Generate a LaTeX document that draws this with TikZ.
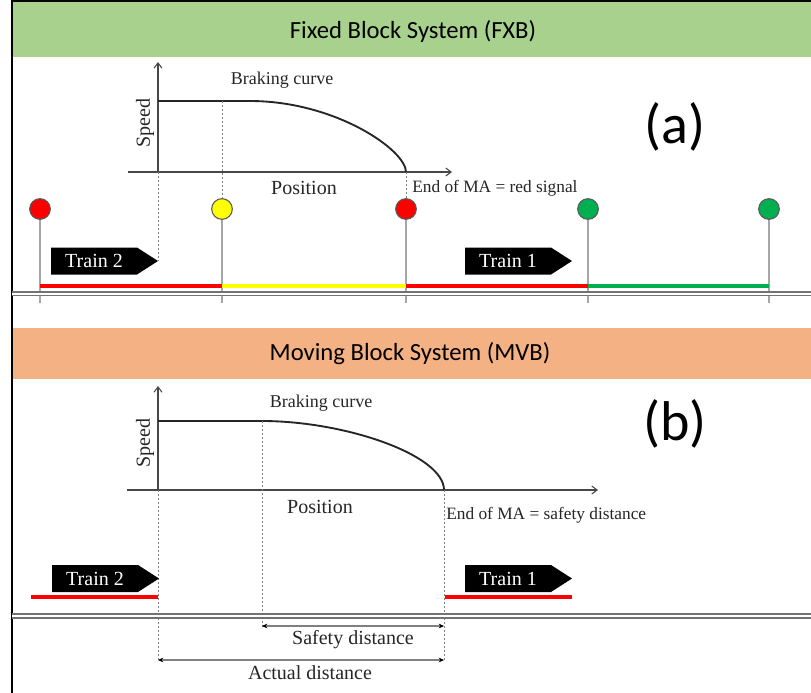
\documentclass[tikz,border=0pt]{standalone}
\usepackage{fontspec}
\setmainfont{Liberation Serif}
\newfontfamily\calfont{Carlito}
\usetikzlibrary{arrows.meta}
\newcommand\fsz[1]{\fontsize{#1}{#1}\selectfont}
\definecolor{bandgreen}{HTML}{A9D18E}
\definecolor{bandorange}{HTML}{F4B183}
\definecolor{sigred}{HTML}{FF0000}
\definecolor{sigyellow}{HTML}{FFFF00}
\definecolor{siggreen}{HTML}{00B050}
\definecolor{txt}{HTML}{262626}
\tikzset{
  axisline/.style={draw=txt!85, line width=0.8pt, -{Straight Barb[length=4pt,width=6pt]}},
  guide/.style={draw=gray, line width=0.7pt, dash pattern=on 1.5pt off 1.5pt},
  brake/.style={draw=black!85, line width=1.4pt},
  pole/.style={draw=gray!70, line width=0.9pt},
  sig/.style={circle, draw=black!65, line width=0.8pt, minimum size=15.5pt, inner sep=0pt},
  rail/.style={draw=black!55, line width=1.3pt, double=white, double distance=1.5pt},
  occ/.style={line width=2.4pt},
  occb/.style={line width=3.6pt, draw=sigred},
  trainlbl/.style={text=white, font=\fsz{15}, inner sep=0pt},
  lbl/.style={text=txt, inner sep=0pt},
  title/.style={font=\calfont\fsz{18.5}, text=black, inner sep=0pt},
  biglbl/.style={font=\calfont\fsz{42}, text=black, inner sep=0pt},
  dimline/.style={draw=gray, line width=0.8pt, {Stealth[length=4pt,width=3.5pt,black]}-{Stealth[length=4pt,width=3.5pt,black]}}
}
% #1 tail x, #2 mid y, #3 text, #4 name
\newcommand\trainshape[4]{%
  \fill[black] (#1,#2-13.5) -- (#1+86,#2-13.5) -- (#1+107,#2) -- (#1+86,#2+13.5) -- (#1,#2+13.5) -- cycle;
  \node[trainlbl] (#4) at (#1+43,#2) {#3};
}
\begin{document}
\begin{tikzpicture}[x=0.75pt,y=-0.75pt]
\useasboundingbox (0,0) rectangle (811,693);
\fill[white] (0,0) rectangle (811,693);

% ---------- bands ----------
\fill[bandgreen] (12,2) rectangle (811,57);
\node[title] (t1) at (413,31) {Fixed Block System (FXB)};
\fill[bandorange] (12,328) rectangle (811,379);
\node[title] (t2) at (410,354) {Moving Block System (MVB)};
\draw[black, line width=1.1pt] (12,0) -- (12,693);
\draw[black, line width=1.1pt] (12,1) -- (811,1);

% ================= (a) =================
\coordinate (ya0) at (158,172); \coordinate (ya1) at (158,62);
\coordinate (xa0) at (128,172); \coordinate (xa1) at (452,172);
\draw[axisline] (ya0) -- (ya1);
\draw[axisline] (xa0) -- (xa1);
\coordinate (ca0) at (158,101); \coordinate (ca1) at (250,101); \coordinate (caend) at (406,172);
\draw[brake] (ca0) -- (ca1) .. controls (335,101) and (406,150) .. (caend);

\node[lbl, font=\fsz{13.5}] (bca) at (282,80) {Braking curve};
\node[lbl, font=\fsz{15}, rotate=90] (spa) at (145,123) {Speed};
\node[lbl, font=\fsz{15}] (posa) at (304,188) {Position};
\node[lbl, font=\fsz{13}, anchor=west] (enda) at (412,188) {End of MA = red signal};
\node[biglbl] (la) at (675,127) {(a)};

% poles
\foreach \n/\x in {1/40,2/222,3/406,4/588,5/769}{
  \coordinate (pt\n) at (\x,209);
  \coordinate (pb\n) at (\x,303);
  \draw[pole] (pt\n) -- (pb\n);
}
% track
\coordinate (ta0) at (12,293.5); \coordinate (ta1) at (811,293.5);
\draw[rail] (ta0) -- (ta1);
% occupancy
\foreach \n/\x in {1/40,2/222,3/406,4/588,5/769}{\coordinate (o\n) at (\x,286);}
\draw[occ, sigred] (o1) -- (o2);
\draw[occ, sigyellow] (o2) -- (o3);
\draw[occ, sigred] (o3) -- (o4);
\draw[occ, siggreen] (o4) -- (o5);
% signals
\node[sig, fill=sigred] (s1) at (pt1) {};
\node[sig, fill=sigyellow] (s2) at (pt2) {};
\node[sig, fill=sigred] (s3) at (pt3) {};
\node[sig, fill=siggreen] (s4) at (pt4) {};
\node[sig, fill=siggreen] (s5) at (pt5) {};
% guides
\coordinate (g1b) at (158,261);
\coordinate (g2t) at (222,101);
\draw[guide] (ya0) -- (g1b);
\draw[guide] (g2t) -- (s2.north);
\draw[guide] (caend) -- (s3.north);
% trains
\trainshape{51}{261}{Train 2}{tr2a}
\trainshape{465}{261}{Train 1}{tr1a}

% ================= (b) =================
\coordinate (yb0) at (158,490); \coordinate (yb1) at (158,386);
\coordinate (xb0) at (127,490); \coordinate (xb1) at (598,490);
\draw[axisline] (yb0) -- (yb1);
\draw[axisline] (xb0) -- (xb1);
\coordinate (cb0) at (158,421); \coordinate (cb1) at (262,421); \coordinate (cbend) at (444,490);
\draw[brake] (cb0) -- (cb1) .. controls (345,421) and (444,455) .. (cbend);

\node[lbl, font=\fsz{13.5}] (bcb) at (321,403) {Braking curve};
\node[lbl, font=\fsz{15}, rotate=90] (spb) at (145,443) {Speed};
\node[lbl, font=\fsz{15}] (posb) at (320,507) {Position};
\node[lbl, font=\fsz{13}, anchor=west] (endb) at (446,515) {End of MA = safety distance};
\node[biglbl] (lb) at (675,424) {(b)};

% guides
\coordinate (gb1) at (158,662); \coordinate (gb2) at (262,628); \coordinate (gb3) at (444,662);
\draw[guide] (yb0) -- (gb1);
\draw[guide] (cb1) -- (gb2);
\draw[guide] (cbend) -- (gb3);

% track
\coordinate (tb0) at (12,616); \coordinate (tb1) at (811,616);
\draw[rail] (tb0) -- (tb1);
% occupancy
\coordinate (r1a) at (31,597); \coordinate (r1b) at (158,597);
\coordinate (r2a) at (445,597); \coordinate (r2b) at (572,597);
\draw[occb] (r1a) -- (r1b);
\draw[occb] (r2a) -- (r2b);
% trains
\trainshape{52}{578.5}{Train 2}{tr2b}
\trainshape{465}{578.5}{Train 1}{tr1b}

% dimensions
\coordinate (da0) at (262,626); \coordinate (da1) at (444,626);
\coordinate (db0) at (158,660); \coordinate (db1) at (444,660);
\draw[dimline] (da0) -- (da1);
\draw[dimline] (db0) -- (db1);
\node[lbl, font=\fsz{15}] (sd) at (353,640) {Safety distance};
\node[lbl, font=\fsz{15}] (ad) at (310,673) {Actual distance};
\end{tikzpicture}
\end{document}
